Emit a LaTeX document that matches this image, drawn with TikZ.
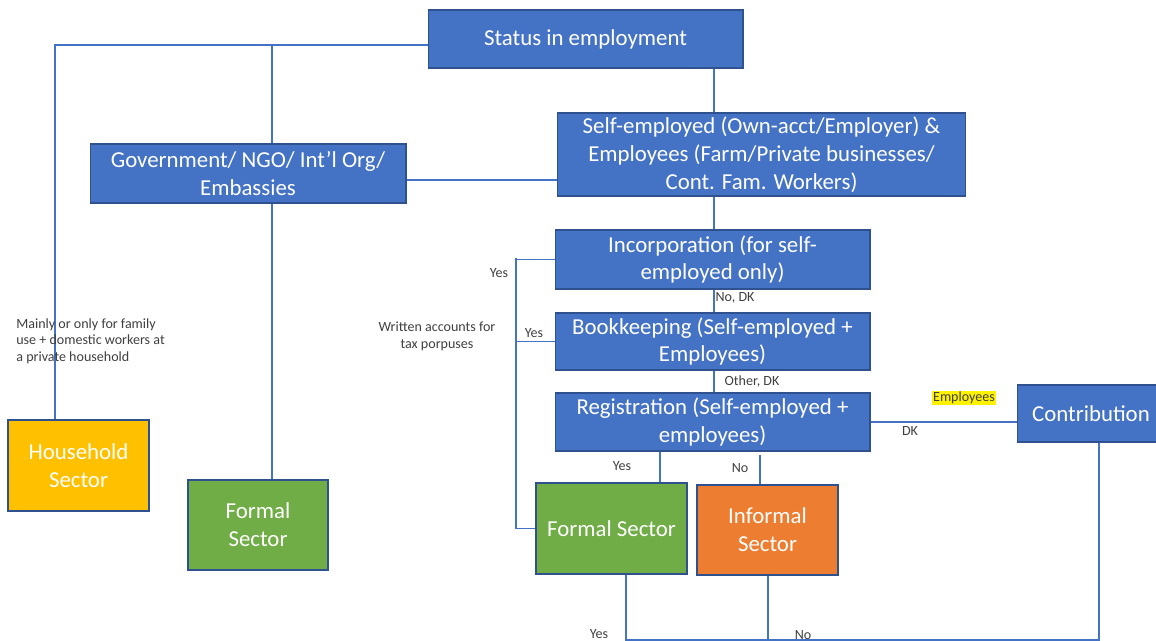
\documentclass[tikz,border=0pt]{standalone}
\usepackage{fontspec}
\setmainfont{Carlito}
\usetikzlibrary{positioning}
\definecolor{boxblue}{HTML}{4472C4}
\definecolor{boxedge}{HTML}{2F528F}
\definecolor{formalgreen}{HTML}{70AD47}
\definecolor{informalorange}{HTML}{ED7D31}
\definecolor{hhamber}{HTML}{FFC000}
\definecolor{lblgrey}{HTML}{404040}
\begin{document}
\begin{tikzpicture}[x=0.02cm, y=-0.02cm,
    box/.style={draw=boxedge, line width=0.6pt, fill=boxblue, text=white, align=center, inner sep=1pt, font=\fontsize{13}{15.9}\selectfont},
    link/.style={draw=boxblue, line width=0.7pt},
    lbl/.style={text=lblgrey, font=\fontsize{8}{9.6}\selectfont, inner sep=0pt}]
  \useasboundingbox (0,0) rectangle (1156,641);
  % boxes
  \node[box, minimum width=6.3cm, minimum height=1.16cm] (status) at (585.5,39) {Status in employment};
  \node[box, minimum width=6.32cm, minimum height=1.18cm] (gov) at (248,173.5) {Government/ NGO/ Int'l Org/\\Embassies};
  \node[box, minimum width=8.18cm, minimum height=1.66cm] (se) at (761.5,154.5) {Self-employed (Own-acct/Employer) \&\\Employees (Farm/Private businesses/\\Cont. Fam. Workers)};
  \node[box, minimum width=6.3cm, minimum height=1.18cm] (inc) at (712.5,259.5) {Incorporation (for self-\\employed only)};
  \node[box, minimum width=6.3cm, minimum height=1.14cm] (book) at (712.5,341.5) {Bookkeeping (Self-employed +\\Employees)};
  \node[box, minimum width=6.3cm, minimum height=1.16cm] (reg) at (712.5,422) {Registration (Self-employed +\\employees)};
  \node[box, minimum width=2.96cm, minimum height=1.14cm] (contrib) at (1091,413.5) {Contribution};
  \node[box, fill=hhamber, minimum width=2.82cm, minimum height=1.82cm] (hh) at (78.5,465.5) {Household\\Sector};
  \node[box, fill=formalgreen, minimum width=2.8cm, minimum height=1.8cm] (fs1) at (258,525) {Formal\\Sector};
  \node[box, fill=formalgreen, minimum width=3.02cm, minimum height=1.82cm] (fs2) at (611.5,528.5) {Formal Sector};
  \node[box, fill=informalorange, minimum width=2.82cm, minimum height=1.8cm] (inf) at (767.5,530) {Informal\\Sector};
  % junction points
  \coordinate (j1) at (55,45);
  \coordinate (j2) at (272,45);
  \coordinate (spine) at (714,0);
  \coordinate (j4) at (0,180);
  \coordinate (br) at (516,258);
  \coordinate (ry) at (660,0);
  \coordinate (rn) at (760,455);
  \coordinate (fb) at (626,640);
  \coordinate (ib) at (768,640);
  \coordinate (cb) at (1099,640);
  % connectors
  \draw[link] (status.west |- j1) -- (j1) -- (j1 |- hh.north);
  \draw[link] (j2) -- (j2 |- gov.north);
  \draw[link] (j2 |- gov.south) -- (j2 |- fs1.north);
  \draw[link] (spine |- status.south) -- (spine |- se.north);
  \draw[link] (gov.east |- j4) -- (se.west |- j4);
  \draw[link] (spine |- se.south) -- (spine |- inc.north);
  \draw[link] (spine |- inc.south) -- (spine |- book.north);
  \draw[link] (spine |- book.south) -- (spine |- reg.north);
  \draw[link] (br) -- (br |- fs2.west) -- (fs2.west);
  \draw[link] (br |- inc.west) -- (inc.west);
  \draw[link] (br |- book.west) -- (book.west);
  \draw[link] (reg.east) -- (reg.east -| contrib.west);
  \draw[link] (ry |- reg.south) -- (ry |- fs2.north);
  \draw[link] (rn) -- (rn |- inf.north);
  \draw[link] (fb |- fs2.south) -- (fb) -- (cb) -- (cb |- contrib.south);
  \draw[link] (ib |- inf.south) -- (ib);
  % labels
  \node[lbl, anchor=north west, align=left] (hhnote) at (16,318) {Mainly or only for family\\use + domestic workers at\\a private household};
  \node[lbl, align=center] (taxnote) at (437,336) {Written accounts for\\tax porpuses};
  \node[lbl] (incyes) at (499,273) {Yes};
  \node[lbl] (bookyes) at (534,333) {Yes};
  \node[lbl] (incno) at (735,298) {No, DK};
  \node[lbl] (bookno) at (752,382) {Other, DK};
  \node[lbl, fill=yellow, inner sep=0.8pt] (regemp) at (964,398) {Employees};
  \node[lbl] (regdk) at (910,431) {DK};
  \node[lbl] (regyes) at (622,466) {Yes};
  \node[lbl] (regno) at (740,468) {No};
  \node[lbl] (botyes) at (599,634) {Yes};
  \node[lbl] (botno) at (803,635) {No};
\end{tikzpicture}
\end{document}
